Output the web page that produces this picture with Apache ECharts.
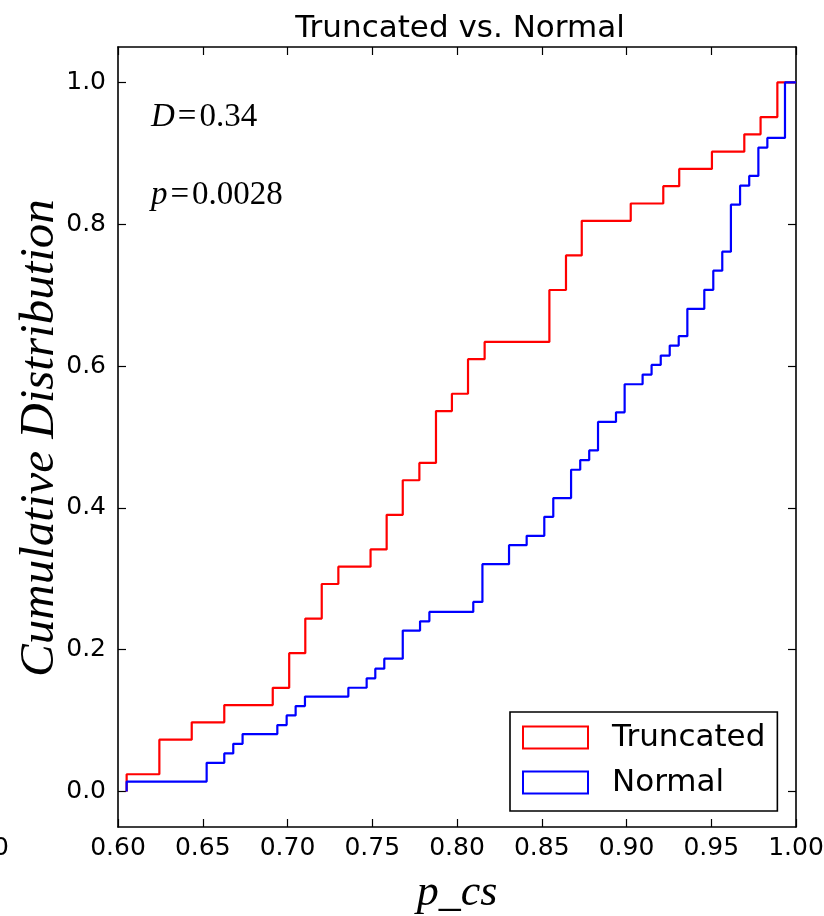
<!DOCTYPE html>
<html>
<head>
<meta charset="utf-8">
<script src="https://cdn.jsdelivr.net/npm/echarts@6/dist/echarts.min.js"></script>
<style>
  html, body { margin: 0; padding: 0; background: #fff; overflow: hidden; }
  #chart { width: 824px; height: 916px; }
</style>
</head>
<body>
<div id="chart"></div>
<script>
// ---- Data ----
const truncX = [0.6051, 0.6051, 0.6244, 0.6435, 0.6627, 0.6913, 0.7010, 0.7105, 0.7202, 0.7300,
                0.7490, 0.7585, 0.7680, 0.7778, 0.7876, 0.7970, 0.8065, 0.8163, 0.8545, 0.8643,
                0.8736, 0.9025, 0.9217, 0.9311, 0.9504, 0.9695, 0.9791, 0.9890, 1.0];
const truncY = [0.0, 0.0244, 0.0732, 0.0976, 0.1220, 0.1463, 0.1951, 0.2439, 0.2927, 0.3171,
                0.3415, 0.3902, 0.4390, 0.4634, 0.5366, 0.5610, 0.6098, 0.6341, 0.7073, 0.7561,
                0.8049, 0.8293, 0.8537, 0.8780, 0.9024, 0.9268, 0.9512, 1.0, 1.0];
const normX = [0.6051, 0.6051, 0.6523, 0.6627, 0.6680, 0.6735, 0.6940, 0.6995, 0.7048, 0.7103,
               0.7359, 0.7467, 0.7518, 0.7571, 0.7680, 0.7782, 0.7837, 0.8096, 0.8150, 0.8307,
               0.8411, 0.8515, 0.8568, 0.8673, 0.8727, 0.8780, 0.8832, 0.8938, 0.8989, 0.9095,
               0.9148, 0.9202, 0.9255, 0.9308, 0.9359, 0.9459, 0.9512, 0.9565, 0.9616, 0.9670,
               0.9724, 0.9778, 0.9831, 0.9935, 1.0];
const normY = [0.0, 0.0141, 0.0405, 0.0537, 0.0673, 0.0810, 0.0937, 0.1073, 0.1205, 0.1340,
               0.1464, 0.1596, 0.1733, 0.1874, 0.2270, 0.2401, 0.2533, 0.2674, 0.3206, 0.3475,
               0.3606, 0.3874, 0.4138, 0.4538, 0.4675, 0.4810, 0.5212, 0.5348, 0.5744, 0.5880,
               0.6017, 0.6149, 0.6290, 0.6422, 0.6808, 0.7076, 0.7345, 0.7613, 0.8277, 0.8545,
               0.8682, 0.9082, 0.9218, 1.0, 1.0];
const xTicks = [0.60, 0.65, 0.70, 0.75, 0.80, 0.85, 0.90, 0.95, 1.00];
const yTicks = [0.0, 0.2, 0.4, 0.6, 0.8, 1.0];
const seriesNames = ['Truncated', 'Normal'];
const yAxisTitle = 'Cumulative Distribution';
const xAxisTitle = 'p_cs';
const statD = '0.34';
const statP = '0.0028';

const pairs = (xs, ys) => xs.map((x, i) => [x, ys[i]]);

const chart = echarts.init(document.getElementById('chart'), null, { renderer: 'canvas', width: 824, height: 916 });
const tickFont = { fontFamily: 'DejaVu Sans', fontSize: 25, color: '#000' };
const axisLine = { show: true, onZero: false, lineStyle: { color: '#000', width: 1.6 } };

function xAxisDef(pos, labels) {
  return {
    type: 'value', position: pos, min: 0.6, max: 1.0,
    axisLine: axisLine,
    axisTick: { show: true, inside: true, length: 8, customValues: xTicks, lineStyle: { color: '#000', width: 1.2 } },
    axisLabel: labels ? Object.assign({ show: true, margin: 9, customValues: xTicks,
      formatter: v => v.toFixed(2) }, tickFont) : { show: false },
    splitLine: { show: false }
  };
}
function yAxisDef(pos, labels) {
  return {
    type: 'value', position: pos, min: -0.05, max: 1.05,
    axisLine: axisLine,
    axisTick: { show: true, inside: true, length: 8, customValues: yTicks, lineStyle: { color: '#000', width: 1.2 } },
    axisLabel: labels ? Object.assign({ show: true, margin: 12, customValues: yTicks,
      formatter: v => v.toFixed(1) }, tickFont) : { show: false },
    splitLine: { show: false }
  };
}

const xa = xAxisDef('bottom', true);
xa.name = xAxisTitle;
xa.nameLocation = 'middle';
xa.nameGap = 44;
xa.nameTextStyle = { fontFamily: 'Liberation Serif', fontStyle: 'italic', fontSize: 44, color: '#000' };
const ya = yAxisDef('left', true);

const option = {
  backgroundColor: '#fff',
  animation: false,
  title: {
    text: 'Truncated vs. Normal', left: 455, top: 8, textAlign: 'center',
    textStyle: { fontFamily: 'DejaVu Sans', fontSize: 31, fontWeight: 'normal', color: '#000' }
  },
  grid: { left: 118, width: 678, top: 47, height: 780, containLabel: false, outerBoundsMode: 'none' },
  xAxis: [xa, xAxisDef('top', false)],
  yAxis: [ya, yAxisDef('right', false)],
  legend: {
    orient: 'vertical', left: 510, top: 712,
    backgroundColor: '#fff', borderColor: '#000', borderWidth: 1.6, borderRadius: 0,
    padding: [10, 12, 13, 12],
    itemWidth: 65, itemHeight: 22, itemGap: 14,
    textStyle: { fontFamily: 'DejaVu Sans', fontSize: 31, color: '#000', padding: [0, 0, 0, 19] },
    data: [
      { name: seriesNames[0], icon: 'rect', itemStyle: { color: '#fff', borderColor: '#ff0000', borderWidth: 2 } },
      { name: seriesNames[1], icon: 'rect', itemStyle: { color: '#fff', borderColor: '#0000ff', borderWidth: 2 } }
    ]
  },
  series: [
    { name: seriesNames[0], type: 'line', step: 'end', showSymbol: false, symbol: 'none',
      lineStyle: { color: '#ff0000', width: 2.2 }, itemStyle: { color: '#ff0000' },
      data: pairs(truncX, truncY), z: 3 },
    { name: seriesNames[1], type: 'line', step: 'end', showSymbol: false, symbol: 'none',
      lineStyle: { color: '#0000ff', width: 2.2 }, itemStyle: { color: '#0000ff' },
      data: pairs(normX, normY), z: 4 }
  ],
  graphic: [
    { type: 'text', x: 40, y: 438, rotation: Math.PI / 2, style: {
        text: yAxisTitle, fontFamily: 'Liberation Serif', fontStyle: 'italic', fontSize: 49,
        fill: '#000', align: 'center', verticalAlign: 'middle' } },
    { type: 'text', left: 151, top: 101, style: {
        text: '{i|D}{e|=}{r|' + statD + '}',
        rich: {
          i: { fontFamily: 'Liberation Serif', fontStyle: 'italic', fontSize: 33, fill: '#000' },
          e: { fontFamily: 'Liberation Serif', fontSize: 33, fill: '#000', padding: [0, 3, 0, 3] },
          r: { fontFamily: 'Liberation Serif', fontSize: 33, fill: '#000' }
        } } },
    { type: 'text', left: 151, top: 179, style: {
        text: '{i|p}{e|=}{r|' + statP + '}',
        rich: {
          i: { fontFamily: 'Liberation Serif', fontStyle: 'italic', fontSize: 33, fill: '#000' },
          e: { fontFamily: 'Liberation Serif', fontSize: 33, fill: '#000', padding: [0, 3, 0, 3] },
          r: { fontFamily: 'Liberation Serif', fontSize: 33, fill: '#000' }
        } } },
    { type: 'text', left: -7, top: 836, style: { text: '0', fontFamily: 'DejaVu Sans', fontSize: 25, fill: '#000' } }
  ]
};
chart.setOption(option);
</script>
</body>
</html>
